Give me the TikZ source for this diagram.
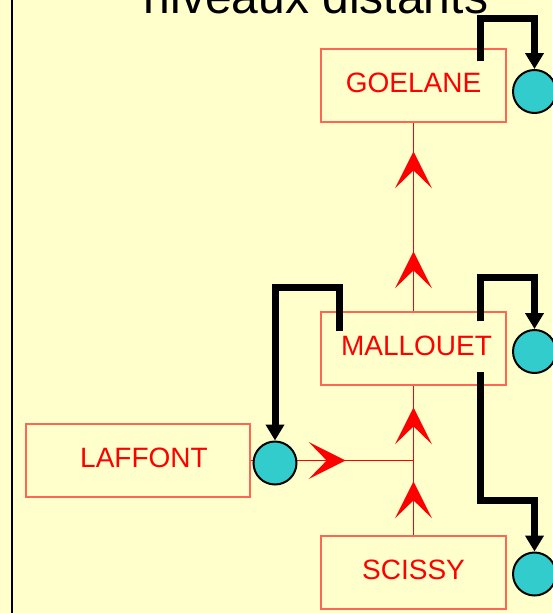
\documentclass[tikz,border=0pt]{standalone}
\usepackage{fontspec}
\setmainfont{Liberation Sans}
\usetikzlibrary{arrows.meta,decorations.markings,calc}
\definecolor{bg}{RGB}{255,255,204}
\definecolor{boxline}{RGB}{255,102,85}
\definecolor{tokfill}{RGB}{51,204,204}
\newcommand\flowhead{\fill[red] (0pt,0pt) -- (-37pt,18.5pt) -- (-19pt,0pt) -- (-37pt,-18.5pt) -- cycle;}
\begin{document}
\begin{tikzpicture}[x=1pt,y=-1pt,
  box/.style={draw=boxline,line width=1.3pt,text=red,minimum width=185pt,minimum height=73pt,
    inner sep=0pt,font=\fontsize{28}{28}\selectfont,text depth=6pt},
  tok/.style={circle,draw=black,line width=2pt,fill=tokfill,minimum size=43pt,inner sep=0pt},
  flow/.style={draw=red,line width=1.2pt,postaction={decorate}},
  ctl/.style={draw=black,line width=7pt,line join=miter,-{Triangle[width=18pt,length=16pt]}}]
\fill[bg] (0,0) rectangle (552,613);
\useasboundingbox (0,0) rectangle (552,613);
\draw[line width=2pt] (12,0) -- (12,613);
\node[anchor=base,font=\fontsize{48}{48}\selectfont] (title) at (316,13) {niveaux distants};
\node[box] (g) at (413.5,85.5) {GOELANE};
\node[box] (m) at (413.5,348.5) {\hspace*{6pt}MALLOUET};
\node[box] (s) at (413.5,572.5) {SCISSY};
\node[box,minimum width=224pt] (l) at (138,460.5) {\hspace*{12pt}LAFFONT};
\coordinate (j) at (m.south |- l.east);
\draw[flow,decoration={markings,mark=at position 54pt with {\flowhead},mark=at position 128pt with {\flowhead}}] (s.north) -- (m.south);
\draw[flow,decoration={markings,mark=at position 60pt with {\flowhead},mark=at position 160pt with {\flowhead}}] (m.north) -- (g.south);
\draw[flow,decoration={markings,mark=at position 95pt with {\flowhead}}] (l.east) -- (j);
\node[tok] (gc) at (534.5,91.5) {};
\node[tok] (mc) at (534.5,351.5) {};
\node[tok] (sc) at (534.5,574) {};
\node[tok] (lc) at (275,463) {};
\draw[ctl] ($(g.north east)+(-26,13)$) -- ++(0,-43) -| (gc.north);
\draw[ctl] ($(m.north west)+(19,20)$) -- ++(0,-44) -| (lc.north);
\draw[ctl] ($(m.north east)+(-26,10)$) -- ++(0,-44) -| (mc.north);
\draw[ctl] ($(m.south east)+(-26,-14)$) -- ++(0,129) -| (sc.north);
\end{tikzpicture}
\end{document}
